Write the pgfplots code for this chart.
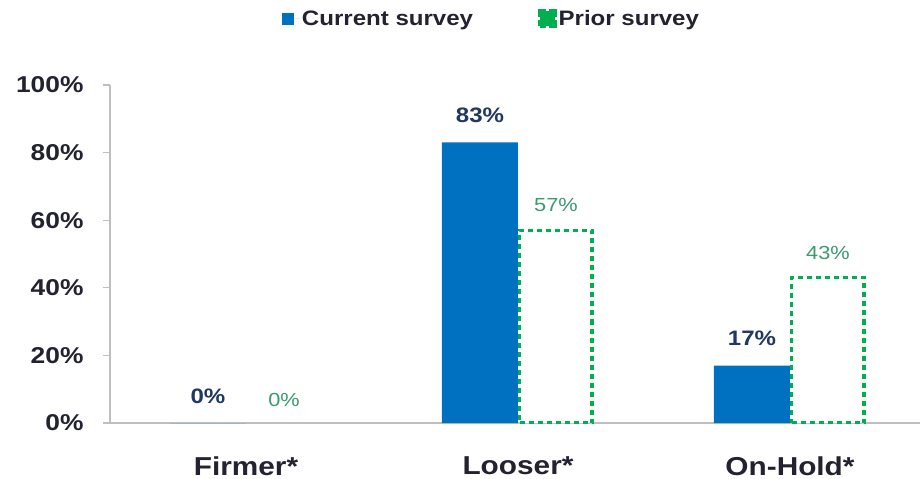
\documentclass[border=0pt]{standalone}
\usepackage{fontspec}
\setmainfont{Liberation Sans}[FakeStretch=1.15]
\usepackage{pgfplots}
\pgfplotsset{compat=1.18}
\definecolor{curblue}{HTML}{0070C0}
\definecolor{prigreen}{HTML}{00B050}
\definecolor{navy}{HTML}{1F3864}
\definecolor{lblgreen}{HTML}{3A9B6E}
\definecolor{tickc}{HTML}{222230}
\definecolor{axgray}{HTML}{BFBFBF}
\begin{document}
\begin{tikzpicture}
\begin{axis}[
  scale only axis, width=810bp, height=338bp,
  xmin=-0.5, xmax=2.478, ymin=0, ymax=100,
  axis x line=bottom, axis y line=left,
  axis line style={-, draw=axgray, line width=1.3bp},
  xtick={0,1,2}, xticklabels={Firmer*, Looser*, On-Hold*},
  x tick style={draw=none},
  ytick={0,20,40,60,80,100},
  y tick style={draw=axgray, line width=1.3bp},
  tick align=outside, major tick length=7bp,
  /pgf/number format/assume math mode=true,
  yticklabel={\pgfmathprintnumber{\tick}\%},
  yticklabel style={font=\fontsize{23}{23}\selectfont\bfseries, text=tickc, xshift=-16bp},
  xticklabel style={font=\fontsize{26}{26}\selectfont\bfseries, text=tickc, yshift=-23bp},
  legend style={draw=none, fill=none, at={(0.471,1.196)}, anchor=center,
    font=\fontsize{21}{21}\selectfont\bfseries, text=tickc,
    /tikz/every even column/.append style={column sep=63bp}},
  legend columns=2,
]
\addplot[ybar, bar width=76bp, bar shift=-38bp, fill=curblue, draw=none,
  nodes near coords={\pgfmathprintnumber{\pgfplotspointmeta}\%},
  nodes near coords style={anchor=center, xshift=-38bp, yshift=27bp, font=\fontsize{21}{21}\selectfont\bfseries, text=navy},
  legend image code/.code={\path (0bp,0bp) -- (18bp,0bp);\fill[curblue] (0bp,-6bp) rectangle (12bp,6bp);}]
  coordinates {(0,0) (1,83) (2,17)};
\addlegendentry{Current survey}
\addplot[ybar, bar width=72.5bp, bar shift=38bp, fill=white, draw=prigreen, line width=3.5bp, dash pattern=on 5bp off 4bp,
  nodes near coords={\pgfmathprintnumber{\pgfplotspointmeta}\%},
  nodes near coords style={anchor=center, xshift=38bp, yshift=25bp, font=\fontsize{19}{19}\selectfont, text=lblgreen, solid},
  legend image code/.code={\draw[prigreen, line width=3.5bp, dash pattern=on 12bp off 3bp, dash phase=6bp] (10bp,-7.5bp) rectangle (25bp,7.5bp);}]
  coordinates {(1,57) (2,43)};
\addlegendentry{Prior survey}
\addplot[ybar, bar width=72.5bp, bar shift=38bp, fill=none, draw=none, forget plot,
  nodes near coords={\pgfmathprintnumber{\pgfplotspointmeta}\%},
  nodes near coords style={anchor=center, xshift=38bp, yshift=23bp, font=\fontsize{19}{19}\selectfont, text=lblgreen}]
  coordinates {(0,0)};
\end{axis}
\pgfresetboundingbox
\path ([xshift=-110bp,yshift=-56bp]current axis.south west) rectangle ([yshift=85bp]current axis.north east);
\end{tikzpicture}
\end{document}
